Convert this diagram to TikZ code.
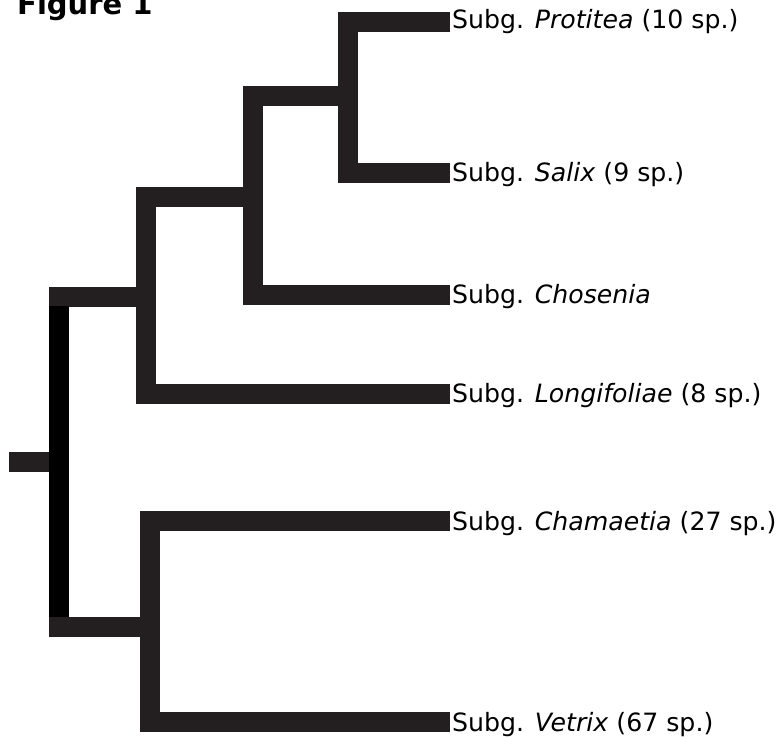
\documentclass[tikz,border=0pt]{standalone}
\usepackage{fontspec}
\setmainfont{DejaVu Sans}
\definecolor{branch}{HTML}{231F20}
\begin{document}
\begin{tikzpicture}[x=1pt,y=-1pt,
  br/.style={draw=branch,line width=20pt,line cap=butt,line join=miter},
  rootbar/.style={draw=black,line width=20pt,line cap=butt},
  taxon/.style={anchor=base west,inner sep=0pt,font=\fontsize{25.2}{30}\selectfont,text=black}]
\useasboundingbox (0,0) rectangle (784,738);
% taxon labels
\node[taxon] (prot) at (452,28.5) {Subg. \textit{Protitea} (10 sp.)};
\node[taxon] (sal)  at (452,182) {Subg. \textit{Salix} (9 sp.)};
\node[taxon] (chos) at (452,303) {Subg. \textit{Chosenia}};
\node[taxon] (long) at (452,402) {Subg. \textit{Longifoliae} (8 sp.)};
\node[taxon] (cham) at (452,530) {Subg. \textit{Chamaetia} (27 sp.)};
\node[taxon] (vet)  at (452,731) {Subg. \textit{Vetrix} (67 sp.)};
\node[anchor=base west,inner sep=0pt,font=\fontsize{29}{34}\bfseries] (title) at (17,15) {Figure 1};
% tips (bar ends)
\coordinate (tP) at (450,22.5);
\coordinate (tS) at (450,173);
\coordinate (tC) at (450,295);
\coordinate (tL) at (450,394);
\coordinate (tCh) at (450,521);
\coordinate (tV) at (450,722);
% internal nodes
\coordinate (nPS) at (348,96);
\coordinate (nPSC) at (253,197);
\coordinate (nPSCL) at (146,296.5);
\coordinate (nChV) at (150,627);
\coordinate (rootTop) at (59,306);
\coordinate (rootBot) at (59,617);
\coordinate (rootL) at (49,462);
\coordinate (rootS) at (9,462);
% branches
\draw[br] (tP) -| (nPS) |- (tS);
\draw[br] (nPS) -| (nPSC) |- (tC);
\draw[br] (nPSC) -| (nPSCL) |- (tL);
\draw[br] (49,296.5) -- (nPSCL);
\draw[br] (tCh) -| (nChV) |- (tV);
\draw[br] (49,627) -- (nChV);
\draw[br] (rootS) -- (rootL);
\draw[rootbar] (rootTop) -- (rootBot);
\end{tikzpicture}
\end{document}
